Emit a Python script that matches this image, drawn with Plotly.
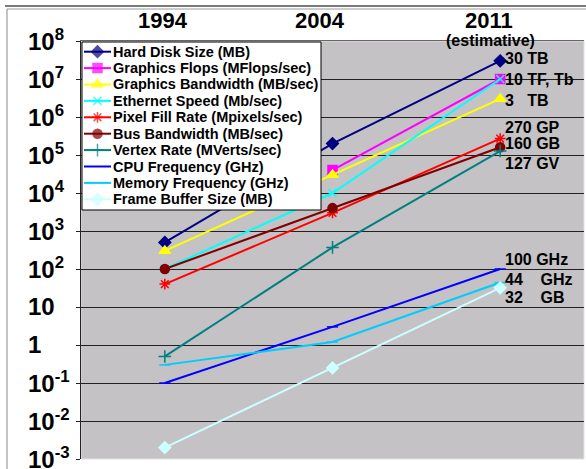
import math
import plotly.graph_objects as go

years = ["1994", "2004", "2011"]

hard_disk = [500, 2.0e5, 3.0e7]
graphics_flops = [None, 4.0e4, 1.0e7]
graphics_bw = [300, 3.0e4, 3.0e6]
ethernet = [100, 1.0e4, 1.0e7]
pixel_fill = [40, 3000, 2.7e5]
bus_bw = [100, 4000, 1.6e5]
vertex_rate = [0.5, 370, 1.27e5]
cpu_freq = [0.1, 3, 100]
mem_freq = [0.3, 1.2, 44]
frame_buffer = [0.002, 0.25, 32]

series_names = [
    "Hard Disk Size (MB)",
    "Graphics Flops (MFlops/sec)",
    "Graphics Bandwidth (MB/sec)",
    "Ethernet Speed (Mb/sec)",
    "Pixel Fill Rate (Mpixels/sec)",
    "Bus Bandwidth (MB/sec)",
    "Vertex Rate (MVerts/sec)",
    "CPU Frequency (GHz)",
    "Memory Frequency (GHz)",
    "Frame Buffer Size (MB)",
]
series_values = [hard_disk, graphics_flops, graphics_bw, ethernet, pixel_fill,
                 bus_bw, vertex_rate, cpu_freq, mem_freq, frame_buffer]

end_labels = ["30 TB", "10 TF, Tb", "3&nbsp;&nbsp;&nbsp;TB", "", "270 GP", "160 GB",
              "127 GV", "100 GHz", "44&nbsp;&nbsp;&nbsp;&nbsp;GHz", "32&nbsp;&nbsp;&nbsp;&nbsp;GB"]

y_exponents = [8, 7, 6, 5, 4, 3, 2, 1, 0, -1, -2, -3]
y_tick_text = ["10<sup>8</sup>", "10<sup>7</sup>", "10<sup>6</sup>", "10<sup>5</sup>",
               "10<sup>4</sup>", "10<sup>3</sup>", "10<sup>2</sup>", "10", "1",
               "10<sup>-1</sup>", "10<sup>-2</sup>", "10<sup>-3</sup>"]

# ---------------- styles ----------------
colors = ["#000080", "#FF00FF", "#FFFF00", "#00FFFF", "#FF0000", "#800000",
          "#008080", "#0000FF", "#00CCFF", "#CCFFFF"]
symbols = ["diamond", "square", "triangle-up", "x-thin-open", "asterisk-open",
           "circle", "cross-thin-open", "line-ew-open", "line-ew-open", "diamond"]
msizes = [9, 9, 10, 8, 9, 9, 9, 8, 8, 9]
legend_key_marker = [True, True, True, True, True, True, True, False, False, True]
label_yshift = [2, 0, -2, 0, 11, 4, -12, 10, 3, -10]

FONT = "Liberation Sans, Arial, sans-serif"

W, H = 586, 469
L, R, T, B = 81, 2, 41, 10
PW, PH = W - L - R, H - T - B

# legend box geometry (page pixels)
LEG_X0, LEG_Y0, LEG_X1, LEG_Y1 = 82, 42, 321, 210
LEG_ROW0, LEG_ROW_STEP = 51.7, 16.4
LEG_KEY_X0, LEG_KEY_X1, LEG_TEXT_X = 84, 111, 111


def px_x(px):
    return (px - L) / PW


def px_y(py):
    return 1 - (py - T) / PH


fig = go.Figure()
for name, vals, col, sym, ms in zip(series_names, series_values, colors, symbols, msizes):
    fig.add_trace(go.Scatter(
        x=list(range(len(years))), y=vals, name=name, mode="lines+markers",
        line=dict(color=col, width=2),
        marker=dict(symbol=sym, size=ms, color=col, line=dict(color=col, width=1.5)),
        connectgaps=False, showlegend=False))

# ---------------- legend (drawn on a hidden pixel-space overlay axis) ----------------
fig.add_trace(go.Scatter(
    x=[LEG_X0, LEG_X1, LEG_X1, LEG_X0, LEG_X0], y=[LEG_Y0, LEG_Y0, LEG_Y1, LEG_Y1, LEG_Y0],
    xaxis="x2", yaxis="y2", mode="lines", fill="toself", fillcolor="white",
    line=dict(color="black", width=1), hoverinfo="skip", showlegend=False))

annotations = []
for i, (name, col, sym, ms, km) in enumerate(zip(series_names, colors, symbols, msizes,
                                                 legend_key_marker)):
    yc = LEG_ROW0 + i * LEG_ROW_STEP
    xm = (LEG_KEY_X0 + LEG_KEY_X1) / 2
    fig.add_trace(go.Scatter(
        x=[LEG_KEY_X0, xm, LEG_KEY_X1], y=[yc, yc, yc], xaxis="x2", yaxis="y2",
        mode="lines+markers" if km else "lines",
        line=dict(color=col, width=2),
        marker=dict(symbol=sym, size=[0, ms, 0], color=col, line=dict(color=col, width=1.5)),
        hoverinfo="skip", showlegend=False))
    annotations.append(dict(x=px_x(LEG_TEXT_X), xref="paper", y=px_y(yc), yref="paper",
                            text=name, xanchor="left", yanchor="middle", showarrow=False,
                            font=dict(family=FONT, size=14.5, color="black", weight="bold")))

# ---------------- y tick labels ----------------
for e, t in zip(y_exponents, y_tick_text):
    annotations.append(dict(x=px_x(26), xref="paper", y=e, yref="y", text=t,
                            xanchor="left", yanchor="middle", yshift=1, showarrow=False,
                            font=dict(family=FONT, size=24, color="black", weight="bold")))
# ---------------- end labels ----------------
for vals, lab, ys in zip(series_values, end_labels, label_yshift):
    if not lab:
        continue
    annotations.append(dict(x=len(years) - 1, xref="x", y=math.log10(vals[-1]), yref="y",
                            text=lab, xanchor="left", yanchor="middle", xshift=3, yshift=ys,
                            showarrow=False,
                            font=dict(family=FONT, size=16, color="black", weight="bold")))
# ---------------- year labels ----------------
year_shift = [-2, -13, -11]
for i, (yr, xs) in enumerate(zip(years, year_shift)):
    annotations.append(dict(x=i, xref="x", y=1, yref="paper", text=yr, xanchor="center",
                            yanchor="middle", xshift=xs, yshift=21, showarrow=False,
                            font=dict(family=FONT, size=22, color="black", weight="bold")))
annotations.append(dict(x=len(years) - 1, xref="x", y=1, yref="paper", text="(estimative)",
                        xanchor="center", yanchor="middle", xshift=-10, yshift=1,
                        showarrow=False,
                        font=dict(family=FONT, size=16, color="black", weight="bold")))

shapes = [
    dict(type="rect", xref="paper", yref="paper", x0=0, x1=1, y0=0, y1=1,
         line=dict(color="#E0E0E0", width=1), layer="below"),
    dict(type="line", xref="paper", yref="paper", x0=px_x(5), x1=px_x(586), y0=px_y(6), y1=px_y(6),
         line=dict(color="#7A7A7A", width=2)),
    dict(type="line", xref="paper", yref="paper", x0=px_x(7), x1=px_x(586), y0=px_y(9), y1=px_y(9),
         line=dict(color="#9A9A9A", width=1)),
    dict(type="line", xref="paper", yref="paper", x0=px_x(7), x1=px_x(7), y0=px_y(9), y1=px_y(469),
         line=dict(color="#8A8A8A", width=1)),
]

fig.update_layout(
    width=W, height=H,
    margin=dict(l=L, r=R, t=T, b=B),
    paper_bgcolor="white",
    plot_bgcolor="#C4C2C4",
    font=dict(family=FONT, color="black"),
    showlegend=False,
    annotations=annotations,
    shapes=shapes,
    xaxis=dict(type="linear", range=[-0.5, len(years) - 0.5], side="top",
               tickvals=list(range(len(years))), ticktext=years,
               showticklabels=False, showgrid=False,
               showline=True, linecolor="#666666", linewidth=1, ticks="", zeroline=False),
    yaxis=dict(type="log", range=[-3, 8], dtick=1, showticklabels=False,
               showgrid=True, gridcolor="#222222", gridwidth=1,
               showline=True, linecolor="#222222", linewidth=1,
               ticks="outside", ticklen=4, tickcolor="#222222", zeroline=False),
    xaxis2=dict(overlaying="x", anchor="y2", range=[L, W - R], visible=False, fixedrange=True),
    yaxis2=dict(overlaying="y", anchor="x2", range=[H - B, T], visible=False, fixedrange=True),
)

fig.write_html("out.html", config={"displayModeBar": False},
               post_script="document.body.style.margin='0';")
